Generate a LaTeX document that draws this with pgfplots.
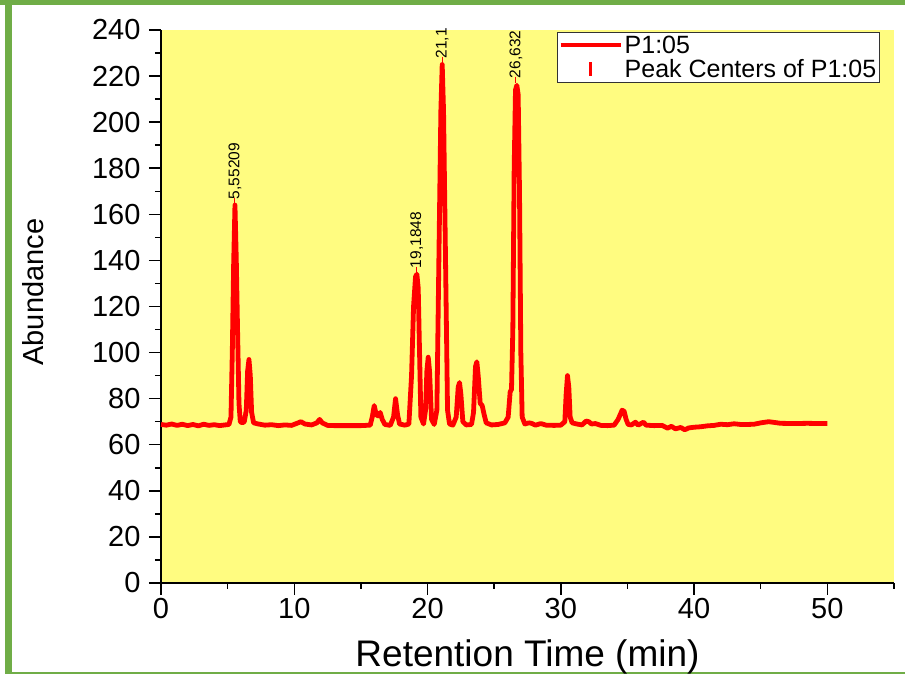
\documentclass[border=0pt]{standalone}
\usepackage{pgfplots}
\pgfplotsset{compat=1.18}
\usepackage{fontspec}
\setmainfont{Liberation Sans}
\definecolor{bgyellow}{RGB}{255,252,128}
\definecolor{framegreen}{RGB}{112,173,71}
\begin{document}
\begin{tikzpicture}
\useasboundingbox (0pt,0pt) rectangle (905pt,674pt);
\fill[white] (0pt,0pt) rectangle (905pt,674pt);
\fill[framegreen] (0pt,669pt) rectangle (905pt,674pt);
\fill[framegreen] (5pt,0pt) rectangle (11.5pt,674pt);
\fill[framegreen] (5pt,0pt) rectangle (905pt,2.2pt);
\begin{axis}[
  at={(161pt,91pt)}, anchor=south west,
  scale only axis, width=733pt, height=553pt,
  xmin=0, xmax=55, ymin=0, ymax=240,
  clip=false,
  axis x line*=bottom, axis y line*=left,
  axis line style={black, line width=1.6pt},
  axis background/.style={fill=bgyellow},
  xtick={0,10,...,50}, minor xtick={5,15,...,55},
  ytick={0,20,...,240}, minor ytick={10,30,...,230},
  tick align=outside,
  major tick length=12pt, minor tick length=6pt,
  every tick/.style={black, line width=1.5pt},
  tick label style={font=\fontsize{29}{32}\selectfont},
  /pgf/number format/assume math mode=true,
  xticklabel style={yshift=0pt},
  yticklabel style={xshift=-5pt},
  xlabel={Retention Time (min)},
  ylabel={Abundance},
  xlabel style={font=\fontsize{37}{42}\selectfont, at={(axis description cs:0.5,-0.134)}, anchor=center},
  ylabel style={font=\fontsize{29}{32}\selectfont, at={(axis description cs:-0.175,0.526)}, anchor=center},
  legend style={at={(axis description cs:0.5405,0.9964)}, anchor=north west,
    draw=black!80, line width=1pt, fill=white,
    font=\fontsize{25}{27}\selectfont, inner xsep=1pt, inner ysep=1.5pt,
    row sep=0pt,
    cells={anchor=west, inner xsep=6pt}},
]
\addplot[red, line width=4.8pt, line join=round,
  legend image code/.code={\draw[red, line width=4pt] (0pt,0pt) -- (60pt,0pt);}]
coordinates {
(0,68.8) (0.4,68.5) (0.8,69.0) (1.2,68.4) (1.6,68.9) (2.0,68.3) (2.4,68.8) (2.8,68.2)
(3.2,68.9) (3.6,68.4) (4.0,68.7) (4.4,68.3) (4.8,68.6) (5.1,68.8)
(5.25,72) (5.35,100) (5.45,138) (5.55,164) (5.65,140) (5.75,108) (5.85,78) (5.95,70)
(6.1,69.5) (6.25,70) (6.4,75) (6.5,92) (6.6,97) (6.7,90) (6.8,74) (6.95,69.5)
(7.3,69) (7.8,68.5) (8.3,68.7) (8.8,68.3) (9.3,68.6) (9.8,68.4) (10.2,69.3) (10.5,70)
(10.8,69) (11.3,68.6) (11.7,69.5) (11.9,71) (12.1,69.5) (12.5,68.4) (13,68.3) (14,68.3)
(15,68.3) (15.7,68.5) (15.85,72) (16.0,77) (16.15,73) (16.3,72.5) (16.45,74) (16.6,71)
(16.8,68.8) (17.2,68.4) (17.45,72) (17.6,80) (17.75,73) (17.9,69) (18.3,68.5) (18.6,69)
(18.8,90) (18.95,120) (19.1,133) (19.2,134) (19.3,128) (19.4,100) (19.5,72) (19.7,69)
(19.85,75) (19.95,92) (20.05,98) (20.15,92) (20.3,71) (20.5,68.8)
(20.7,75) (20.85,140) (21.0,205) (21.1,225) (21.2,205) (21.35,140) (21.5,75) (21.65,69)
(21.9,68.5) (22.15,72) (22.3,85) (22.4,87) (22.5,82) (22.65,70) (22.9,68.6)
(23.3,68.8) (23.45,74) (23.6,94) (23.7,96) (23.8,90) (23.95,78) (24.1,77) (24.25,73)
(24.4,69.5) (24.8,68.6) (25.3,68.8) (25.8,69.5) (26.05,72) (26.2,83) (26.3,84)
(26.4,110) (26.5,180) (26.6,214) (26.7,216) (26.8,212) (26.9,170) (27.0,100) (27.1,72)
(27.3,69) (27.6,69.5) (27.8,69.3) (28.1,68.5) (28.5,69.2) (28.9,68.5) (29.5,68.4)
(30.0,68.5) (30.3,70) (30.4,82) (30.5,90) (30.6,85) (30.7,72) (30.85,69.5) (31.2,69)
(31.6,68.6) (31.9,70.3) (32.1,70) (32.3,69) (32.6,69.2) (33,68.4) (33.5,68.3) (34.0,68.5)
(34.3,71) (34.45,73) (34.6,75) (34.75,74.5) (34.9,71) (35.05,68.8) (35.3,68.6) (35.6,69.8)
(35.8,68.5) (36.2,69.8) (36.4,68.5) (37,68.3) (37.6,68.4) (38,67.2) (38.3,68) (38.6,66.9)
(39,67.5) (39.3,66.5) (39.6,67.3) (40,67.6) (40.5,67.8) (41,68.2) (41.5,68.4) (42,68.9)
(42.5,68.7) (43,69.1) (43.5,68.8) (44,68.8) (44.5,68.9) (45,69.5) (45.6,70) (46,69.7)
(46.5,69.3) (47.5,69.2) (48.5,69.3) (49.5,69.2) (50,69.2)
};
\addlegendentry{P1:05}
\addplot[red, only marks, mark=|, mark size=3pt, mark options={line width=1pt, red},
  nodes near coords, point meta=explicit symbolic,
  every node near coord/.style={rotate=90, anchor=west, inner sep=1pt, black,
    font=\fontsize{15.5}{17}\selectfont},
  legend image code/.code={\fill[red] (29pt,-6.5pt) rectangle (31pt,6.5pt); \path[draw=none] (0pt,0pt) -- (60pt,0pt);}]
table[meta=label] {
x y label
5.55209 166 5,55209
19.1848 136 19,1848
21.1 227 21,1
26.632 218.5 26,632
};
\addlegendentry{Peak Centers of P1:05}
\end{axis}
\end{tikzpicture}
\end{document}
